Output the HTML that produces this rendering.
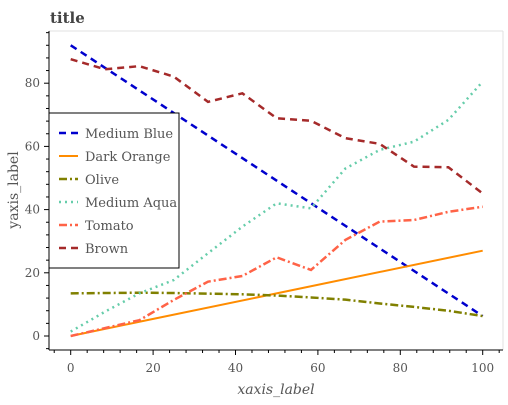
<!DOCTYPE html>
<html><head><meta charset="utf-8"><style>
body{margin:0;background:#fff;}
svg text{font-family:"DejaVu Serif","Liberation Serif",serif;}
</style></head><body>
<svg id="chart" width="508" height="400" xmlns="http://www.w3.org/2000/svg">
<text x="50" y="23" font-size="15" font-weight="bold" fill="#444">title</text>
<line x1="49" y1="31" x2="503" y2="31" stroke="#e0e0e0"/>
<line x1="503" y1="31" x2="503" y2="350" stroke="#e0e0e0"/>
<g id="marks"></g>
<g id="axes"></g>
<text x="18" y="190" font-size="14" fill="#555" transform="rotate(-90 18 190)" text-anchor="middle">yaxis_label</text>
<text x="276" y="394" font-size="14" fill="#555" font-style="italic" text-anchor="middle">xaxis_label</text>
<g id="legend"></g>
</svg>
<script>
const xTicks=[0,20,40,60,80,100];
const yTicks=[0,20,40,60,80];
const xs13=[0,8.33,16.67,25,33.33,41.67,50,58.33,66.67,75,83.33,91.67,100];
const blueX=[0,100];
const blueY=[92,6.3];
const orangeX=[0,16.67,100];
const orangeY=[0,4.5,27];
const oliveY=[13.5,13.6,13.7,13.6,13.4,13.2,12.8,12.2,11.5,10.3,9.2,8.0,6.3];
const aquaY=[1.4,7.7,13.5,17.7,26.2,34.6,42,40.4,53,58.9,61.5,68.4,80.5];
const tomatoY=[0,2.5,5,11.4,17.2,19,24.9,20.9,30.4,36.2,36.7,39.3,40.9];
const brownY=[87.6,84.4,85.4,82.1,74.1,76.8,68.9,68.1,62.6,60.8,53.6,53.4,45.1];
const NS="http://www.w3.org/2000/svg";
const sx=v=>70.7+v*4.12;
const sy=v=>336-v*3.16;
const marks=document.getElementById('marks'),axes=document.getElementById('axes'),legend=document.getElementById('legend');
function mk(t,a,p){const e=document.createElementNS(NS,t);for(const k in a)e.setAttribute(k,a[k]);p.appendChild(e);return e;}
const series=[
 {name:'Medium Blue',c:'#0000cd',d:'7,5',w:2.5,x:blueX,y:blueY},
 {name:'Dark Orange',c:'#ff8c00',d:'',w:2,x:orangeX,y:orangeY},
 {name:'Olive',c:'#808000',d:'8,3,2,3',w:2.5,x:xs13,y:oliveY},
 {name:'Medium Aqua',c:'#66cdaa',d:'2,4',w:2.5,x:xs13,y:aquaY},
 {name:'Tomato',c:'#ff6347',d:'8,3,2,3',w:2.5,x:xs13,y:tomatoY},
 {name:'Brown',c:'#a52a2a',d:'7,5',w:2.5,x:xs13,y:brownY}];
series.forEach(s=>{
 const pts=s.x.map((x,i)=>sx(x)+','+sy(s.y[i])).join(' ');
 const p=mk('polyline',{points:pts,fill:'none',stroke:s.c,'stroke-width':s.w,'stroke-dasharray':s.d},marks);
 
 
});
mk('line',{x1:49,y1:31,x2:49,y2:350,stroke:'#000'},axes);
mk('line',{x1:49,y1:350,x2:503,y2:350,stroke:'#000'},axes);
for(let v=-4;v<=104;v+=4){mk('line',{x1:sx(v),y1:350,x2:sx(v),y2:v%20===0?355:353,stroke:'#000'},axes);}
for(let v=-4;v<=96;v+=4){mk('line',{x1:49,y1:sy(v),x2:v%20===0?44:46,y2:sy(v),stroke:'#000'},axes);}
xTicks.forEach(v=>{const t=mk('text',{x:sx(v),y:372,'font-size':12,fill:'#555','text-anchor':'middle'},axes);t.textContent=v;
 
 });
yTicks.forEach(v=>{const t=mk('text',{x:40,y:sy(v)+4,'font-size':12,fill:'#555','text-anchor':'end'},axes);t.textContent=v;
 
 });
const lb=mk('rect',{x:49,y:113,width:130,height:155,fill:'#fff',stroke:'#000'},legend);


series.forEach((s,i)=>{const y=133+i*23;
 mk('line',{x1:59,y1:y,x2:78,y2:y,stroke:s.c,'stroke-width':s.w,'stroke-dasharray':s.d},legend);
 const t=mk('text',{x:85,y:y+5,'font-size':13,fill:'#555'},legend);t.textContent=s.name;
 
 });
</script>
</body></html>
